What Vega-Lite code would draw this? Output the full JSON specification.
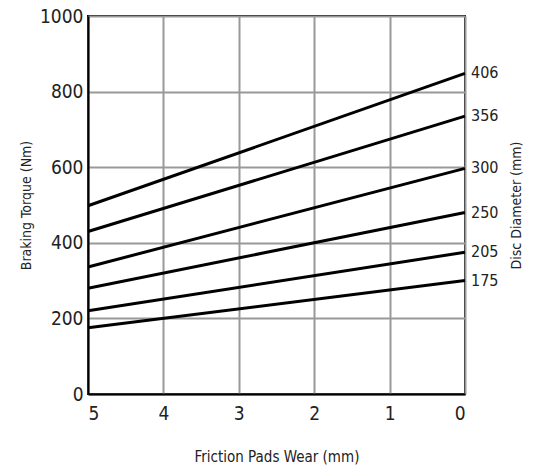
{
  "$schema": "https://vega.github.io/schema/vega-lite/v6.json",
  "width": 377,
  "height": 378,
  "autosize": "none",
  "padding": {"left": 88, "top": 16, "right": 79, "bottom": 74},
  "background": "white",
  "config": {
    "font": "DejaVu Sans Condensed, sans-serif",
    "view": {"stroke": "black", "strokeWidth": 2},
    "axis": {
      "labelFont": "DejaVu Sans Condensed, sans-serif",
      "titleFont": "DejaVu Sans Condensed, sans-serif",
      "labelColor": "#222",
      "titleColor": "#222",
      "titleFontWeight": "normal",
      "gridColor": "#999",
      "gridWidth": 2,
      "gridOpacity": 1,
      "domainColor": "black",
      "domainWidth": 2,
      "ticks": false
    }
  },
  "data": {
    "values": [
      {"wear": 5, "torque": 175, "disc": "175"},
      {"wear": 0, "torque": 300, "disc": "175"},
      {"wear": 5, "torque": 220, "disc": "205"},
      {"wear": 0, "torque": 375, "disc": "205"},
      {"wear": 5, "torque": 280, "disc": "250"},
      {"wear": 0, "torque": 480, "disc": "250"},
      {"wear": 5, "torque": 336, "disc": "300"},
      {"wear": 0, "torque": 597, "disc": "300"},
      {"wear": 5, "torque": 430, "disc": "356"},
      {"wear": 0, "torque": 735, "disc": "356"},
      {"wear": 5, "torque": 498, "disc": "406"},
      {"wear": 0, "torque": 848, "disc": "406"}
    ]
  },
  "layer": [
    {
      "mark": {"type": "line", "color": "black", "strokeWidth": 3},
      "encoding": {
        "x": {
          "field": "wear",
          "type": "quantitative",
          "scale": {"domain": [5, 0], "nice": false},
          "axis": {"values": [5, 4, 3, 2, 1, 0], "format": "d", "labelFontSize": 19, "labelPadding": 10, "title": "Friction Pads Wear (mm)", "titleFontSize": 15, "titlePadding": 26}
        },
        "y": {
          "field": "torque",
          "type": "quantitative",
          "scale": {"domain": [0, 1000], "nice": false},
          "axis": {"values": [0, 200, 400, 600, 800, 1000], "format": "d", "labelFontSize": 19, "labelPadding": 5, "title": "Braking Torque (Nm)", "titleFontSize": 14, "titlePadding": 6}
        },
        "detail": {"field": "disc"}
      }
    },
    {
      "transform": [{"filter": "datum.wear == 0"}],
      "mark": {"type": "text", "align": "left", "baseline": "middle", "dx": 6, "fontSize": 16, "color": "#222"},
      "encoding": {
        "x": {"field": "wear", "type": "quantitative"},
        "y": {
          "field": "torque",
          "type": "quantitative",
          "axis": {"orient": "right", "labels": false, "grid": false, "domain": false, "title": "Disc Diameter (mm)", "titleFontSize": 14, "titleAngle": 270, "titlePadding": 58}
        },
        "text": {"field": "disc"}
      }
    }
  ],
  "resolve": {"axis": {"y": "independent"}}
}
